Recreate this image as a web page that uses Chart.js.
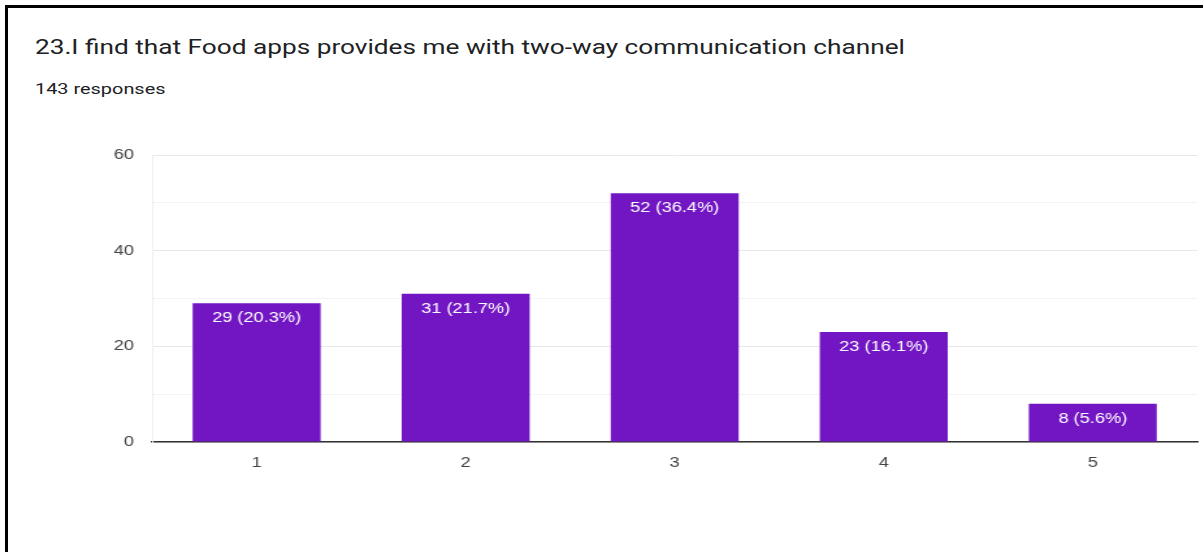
<!DOCTYPE html>
<html>
<head>
<meta charset="utf-8">
<script src="https://cdn.jsdelivr.net/npm/chart.js@4.4.0/dist/chart.umd.min.js"></script>
<style>
  html, body { margin: 0; padding: 0; background: #fff; }
  body { width: 1203px; height: 552px; position: relative; overflow: hidden; }
  .frame {
    position: absolute; left: 5px; top: 5px; width: 1200px; height: 560px;
    border-top: 3px solid #000; border-left: 3px solid #000;
  }
  .title, .sub {
    position: absolute; left: 35px; white-space: nowrap; line-height: 1;
    font-family: Roboto, "Noto Sans", sans-serif; color: #202124;
    transform-origin: 0 0;
  }
  .title { top: 37px; font-size: 20px; }
  .sub { top: 82px; font-size: 15px; }
  /* the reference picture is stretched sideways, so the chart is too */
  #wrap { position: absolute; left: 0; top: 0; width: 926px; height: 552px;
          transform: scaleX(1.3); transform-origin: 0 0; }
</style>
</head>
<body>
<div class="frame"></div>
<div class="title" id="titulo">23.I find that Food apps provides me with two-way communication channel</div>
<div class="sub" id="sub">143 responses</div>
<div id="wrap"><canvas id="grafico"></canvas></div>
<script>
const categorias = ['1', '2', '3', '4', '5'];
const respostas = [29, 31, 52, 23, 8];
const percentuais = ['20.3', '21.7', '36.4', '16.1', '5.6'];
const ticksY = [0, 20, 40, 60];

// stretch the header texts to the widths seen in the picture
function estica(id, largura) {
    const el = document.getElementById(id);
    el.style.transform = 'scaleX(' + (largura / el.offsetWidth) + ')';
}
estica('titulo', 870);
estica('sub', 130);

const fonte = '"Liberation Sans", Arial, sans-serif';

const rotulos = {
    id: 'rotulos',
    afterDatasetsDraw(chart) {
        const c = chart.ctx;
        const meta = chart.getDatasetMeta(0);
        c.save();
        c.fillStyle = '#ffffff';
        c.font = '14px ' + fonte;
        c.textAlign = 'center';
        c.textBaseline = 'middle';
        meta.data.forEach((bar, i) => {
            c.fillText(respostas[i] + ' (' + percentuais[i] + '%)', bar.x, bar.y + 15);
        });
        c.restore();
    }
};

const ctx = document.getElementById('grafico');

new Chart(ctx, {
    type: 'bar',
    data: {
        labels: categorias,
        datasets: [{
            data: respostas,
            backgroundColor: '#7216c4',
            borderWidth: 0,
            categoryPercentage: 1,
            barPercentage: 0.612
        }]
    },
    options: {
        responsive: true,
        maintainAspectRatio: false,
        animation: false,
        layout: { padding: { left: 57, right: 5, top: 155, bottom: 70 } },
        plugins: { legend: { display: false }, tooltip: { enabled: false } },
        scales: {
            x: {
                afterFit: s => { s.height = 40; },
                grid: { display: false, drawTicks: false },
                border: { color: '#333333', width: 1.5 },
                ticks: {
                    padding: 13,
                    color: '#444444',
                    font: { family: fonte, size: 14 }
                }
            },
            y: {
                min: 0,
                max: 60,
                afterFit: s => { s.width = 60; },
                grid: {
                    drawTicks: false,
                    color: c => (c.tick && c.tick.value % 20 === 0) ? '#e8e8e8' : '#f3f3f3'
                },
                border: { color: '#eeeeee' },
                ticks: {
                    stepSize: 10,
                    padding: 14,
                    color: '#444444',
                    font: { family: fonte, size: 14 },
                    callback: v => ticksY.includes(v) ? v : ''
                }
            }
        }
    },
    plugins: [rotulos]
});
</script>
</body>
</html>
